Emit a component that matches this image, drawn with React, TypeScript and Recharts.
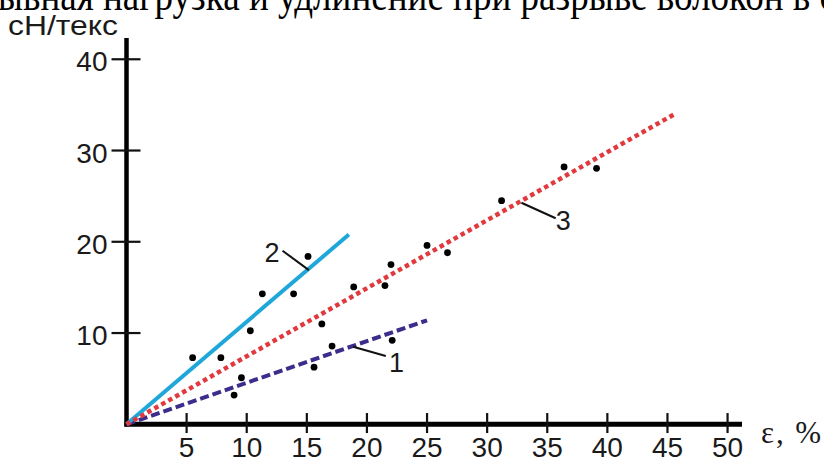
import React from 'react';
import { ComposedChart, XAxis, YAxis, Line, Scatter, ReferenceDot } from 'recharts';

const titleText = 'ывная нагрузка и удлинение при разрыве волокон в с';
const yUnit = 'сН/текс';
const xUnit = 'ε, %';

const xTicks = [5, 10, 15, 20, 25, 30, 35, 40, 45, 50];
const yTicks = [10, 20, 30, 40];
const xMin = -0.25;
const xMax = 51.2;
const yMin = -0.3;
const yMax = 42.33;

const axisXLine = [{ x: -0.17, y: 0 }, { x: xMax, y: 0 }];
const axisYLine = [{ x: 0, y: -0.25 }, { x: 0, y: yMax }];

const line1 = [{ x: 0, y: 0 }, { x: 25.0, y: 11.4 }];
const line2 = [{ x: 0, y: 0 }, { x: 18.5, y: 20.8 }];
const line3 = [{ x: 0, y: 0 }, { x: 45.6, y: 34.0 }];

const pointsX = [5.5, 7.85, 8.95, 9.56, 10.3, 11.3, 13.9, 15.1, 15.6, 16.25, 17.1, 18.9, 21.5, 22.0, 22.1, 25.0, 26.7, 31.2, 36.4, 39.1];
const pointsY = [7.3, 7.3, 3.2, 5.1, 10.25, 14.3, 14.3, 18.4, 6.26, 11.0, 8.57, 15.05, 15.2, 17.5, 9.2, 19.6, 18.8, 24.5, 28.2, 28.05];
const points = pointsX.map((x, i) => ({ x, y: pointsY[i] }));

const annLabels = ['1', '2', '3'];
const annLeaderFrom = [{ x: 18.85, y: 8.5 }, { x: 15.17, y: 16.9 }, { x: 32.85, y: 24.28 }];
const annLeaderTo = [{ x: 21.57, y: 7.48 }, { x: 12.98, y: 19.02 }, { x: 35.7, y: 22.58 }];
const annLabelPos = [{ x: 22.46, y: 6.77 }, { x: 12.1, y: 18.8 }, { x: 36.34, y: 22.36 }];

const SANS = 'Liberation Sans, Arial, sans-serif';
const SERIF = 'Liberation Serif, Times New Roman, serif';

// y-axis ticks: x is the plot's left edge (3px left of the zero line)
const YTick = (props: any) => {
  const { x, y, payload } = props;
  return (
    <g>
      <line x1={x - 12} x2={x + 17} y1={y} y2={y} stroke="#111" strokeWidth={2.2} />
      <text x={x - 16} y={y + 12} textAnchor="end" fontSize={28} fontFamily={SANS} fill="#1a1a1a">
        {payload.value}
      </text>
    </g>
  );
};

// x-axis ticks: y is the plot's bottom edge (about 3px below the zero line)
const XTick = (props: any) => {
  const { x, y, payload } = props;
  return (
    <g>
      <line x1={x} x2={x} y1={y - 14} y2={y + 6} stroke="#111" strokeWidth={2.2} />
      <text x={x} y={y + 30} textAnchor="middle" fontSize={28} fontFamily={SANS} fill="#1a1a1a">
        {payload.value}
      </text>
    </g>
  );
};

const Dot = (p: any) => <circle cx={p.cx} cy={p.cy} r={3.4} fill="#000" />;

export default function App() {
  return (
    <div style={{ position: 'absolute', left: 0, top: 0, width: 824, height: 461, background: '#fff', overflow: 'hidden' }}>
      <ComposedChart width={824} height={461} margin={{ top: 38, right: 82, bottom: 0, left: 0 }}>
        <XAxis
          dataKey="x"
          type="number"
          domain={[xMin, xMax]}
          ticks={xTicks}
          interval={0}
          height={33.96}
          tickSize={0}
          tickMargin={0}
          tick={<XTick />}
          axisLine={false}
        />
        <YAxis
          dataKey="y"
          type="number"
          domain={[yMin, yMax]}
          ticks={yTicks}
          interval={0}
          width={123.5}
          tickSize={0}
          tickMargin={0}
          tick={<YTick />}
          axisLine={false}
        />
        <Line data={axisXLine} dataKey="y" type="linear" stroke="#000" strokeWidth={5} dot={false} activeDot={false} isAnimationActive={false} />
        <Line data={axisYLine} dataKey="y" type="linear" stroke="#000" strokeWidth={4.5} dot={false} activeDot={false} isAnimationActive={false} />
        <Line data={line1} dataKey="y" type="linear" stroke="#3b2d8c" strokeWidth={4} strokeDasharray="9 4" dot={false} activeDot={false} isAnimationActive={false} />
        <Line data={line2} dataKey="y" type="linear" stroke="#1fa7da" strokeWidth={4} dot={false} activeDot={false} isAnimationActive={false} />
        <Line data={line3} dataKey="y" type="linear" stroke="#e0393e" strokeWidth={4.5} strokeDasharray="4.5 3.5" dot={false} activeDot={false} isAnimationActive={false} />
        <Scatter data={points} dataKey="y" shape={<Dot />} isAnimationActive={false} />
        {annLabels.map((lab, i) => (
          <Line
            key={'l' + lab}
            data={[annLeaderFrom[i], annLeaderTo[i]]}
            dataKey="y"
            type="linear"
            stroke="#111"
            strokeWidth={2}
            dot={false}
            activeDot={false}
            isAnimationActive={false}
          />
        ))}
        {annLabels.map((lab, i) => (
          <ReferenceDot
            key={'d' + lab}
            x={annLabelPos[i].x}
            y={annLabelPos[i].y}
            r={0}
            fill="none"
            stroke="none"
            label={{ value: lab, position: 'center', fontSize: 27, fontFamily: SANS, fill: '#1a1a1a' }}
          />
        ))}
      </ComposedChart>
      <svg width={824} height={461} style={{ position: 'absolute', left: 0, top: 0, pointerEvents: 'none' }}>
        <text x={-2} y={10} fontSize={45} fontFamily={SERIF} fill="#000" textLength={838} lengthAdjust="spacingAndGlyphs">{titleText}</text>
        <text x={8} y={35} fontSize={28} fontFamily={SANS} fill="#1a1a1a" textLength={110} lengthAdjust="spacingAndGlyphs">{yUnit}</text>
        <text x={761} y={443} fontSize={31} fontFamily={SERIF} fill="#1a1a1a" textLength={60} lengthAdjust="spacing">{xUnit}</text>
      </svg>
    </div>
  );
}
